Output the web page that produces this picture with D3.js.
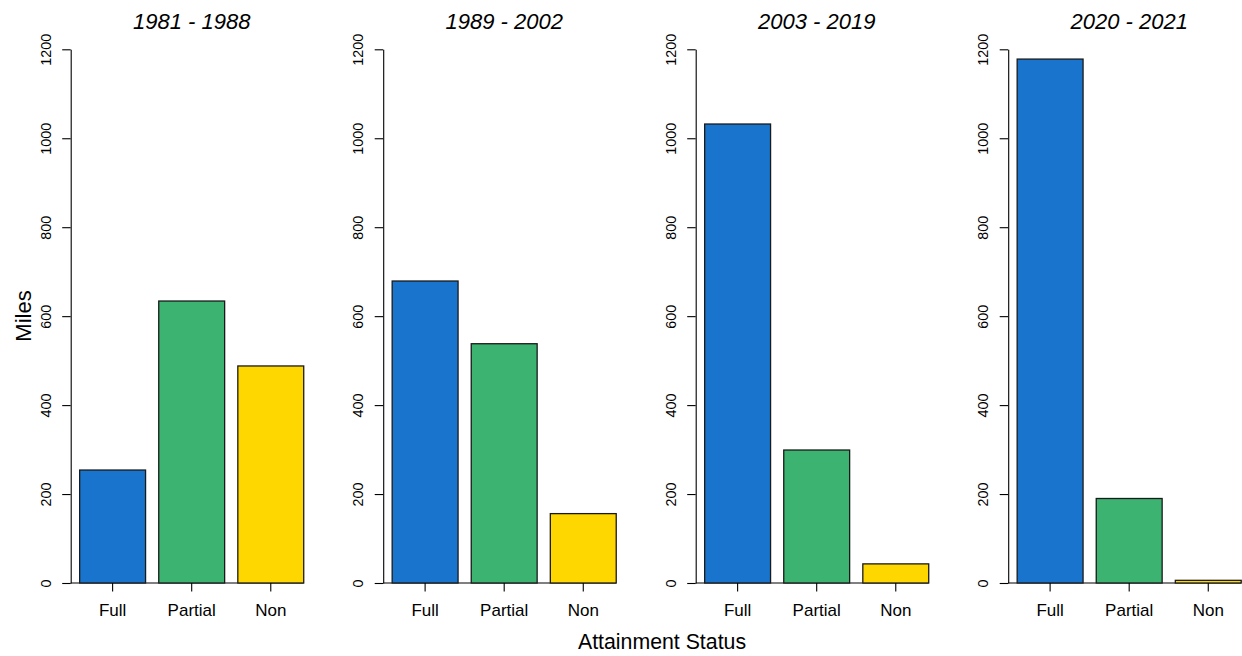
<!DOCTYPE html>
<html>
<head>
<meta charset="utf-8">
<script src="https://cdn.jsdelivr.net/npm/d3@7"></script>
<style>
  html, body { margin: 0; padding: 0; background: #fff; }
  svg { display: block; font-family: "Liberation Sans", Arial, sans-serif; }
</style>
</head>
<body>
<svg id="chart" width="1242" height="656"></svg>
<script>
// ---- data ----
const periods = ["1981 - 1988", "1989 - 2002", "2003 - 2019", "2020 - 2021"];
const categories = ["Full", "Partial", "Non"];
const fullMiles    = [254, 679, 1032, 1178];
const partialMiles = [634, 538, 299, 190];
const nonMiles     = [488, 156, 43, 6];
const yTicks = [0, 200, 400, 600, 800, 1000, 1200];
const colors = ["#1874CD", "#3CB371", "#FFD700"];
const yLabel = "Miles";
const xLabel = "Attainment Status";

// ---- layout ----
const svg = d3.select("#chart");
const y = d3.scaleLinear().domain([0, 1200]).range([583, 49.3]);
const unit = 65.9;
const panelStep = 312.5;
const firstAxisX = 70.7;

periods.forEach((period, i) => {
  const L = firstAxisX + panelStep * i;
  const barStart = L + 0.136 * unit;
  const x = d3.scaleBand()
    .domain(categories)
    .range([barStart, barStart + 3.4 * unit])
    .paddingInner(1 / 6)
    .paddingOuter(0);
  const vals = [fullMiles[i], partialMiles[i], nonMiles[i]];
  const data = categories.map((c, k) => ({ cat: c, v: vals[k], col: colors[k] }));
  const g = svg.append("g");

  // baseline at zero
  g.append("line")
    .attr("x1", L).attr("x2", x("Non") + x.bandwidth())
    .attr("y1", y(0)).attr("y2", y(0))
    .attr("stroke", "#000").attr("stroke-width", 1);

  // bars
  g.selectAll("rect.bar").data(data).join("rect")
    .attr("class", "bar")
    .attr("x", d => x(d.cat))
    .attr("width", x.bandwidth())
    .attr("y", d => y(d.v))
    .attr("height", d => y(0) - y(d.v))
    .attr("fill", d => d.col)
    .attr("stroke", "#1a1a1a")
    .attr("stroke-width", 1.3);

  // y axis
  const ya = g.append("g")
    .attr("transform", `translate(${L},0)`)
    .call(d3.axisLeft(y).tickValues(yTicks).tickFormat(d3.format("d")).tickSize(8.5).tickSizeOuter(0));
  ya.select(".domain").attr("stroke", "#000").attr("stroke-width", 1.1);
  ya.selectAll(".tick line").attr("stroke", "#000").attr("stroke-width", 1.1);
  ya.selectAll(".tick text")
    .attr("x", null).attr("dy", null)
    .attr("transform", "translate(-20,0) rotate(-90)")
    .attr("text-anchor", "middle")
    .attr("fill", "#000")
    .style("font-size", "14.4px")
    .style("font-family", "'Liberation Sans', Arial, sans-serif");

  // x ticks and labels
  g.selectAll("line.xt").data(categories).join("line")
    .attr("class", "xt")
    .attr("x1", c => x(c) + x.bandwidth() / 2)
    .attr("x2", c => x(c) + x.bandwidth() / 2)
    .attr("y1", y(0)).attr("y2", y(0) + 8.5)
    .attr("stroke", "#000").attr("stroke-width", 1.1);
  g.selectAll("text.xl").data(categories).join("text")
    .attr("class", "xl")
    .attr("x", c => x(c) + x.bandwidth() / 2)
    .attr("y", 616)
    .attr("text-anchor", "middle")
    .style("font-size", "17px")
    .text(c => c);

  // panel title
  const plotRight = L + 3.672 * unit;
  g.append("text")
    .attr("x", (L + plotRight) / 2)
    .attr("y", 29)
    .attr("text-anchor", "middle")
    .style("font-size", "22px")
    .style("font-style", "italic")
    .text(period);
});

// shared axis titles
svg.append("text")
  .attr("transform", "translate(31,316) rotate(-90)")
  .attr("text-anchor", "middle")
  .style("font-size", "22px")
  .text(yLabel);

svg.append("text")
  .attr("x", 662)
  .attr("y", 649)
  .attr("text-anchor", "middle")
  .style("font-size", "21.3px")
  .text(xLabel);
</script>
</body>
</html>
